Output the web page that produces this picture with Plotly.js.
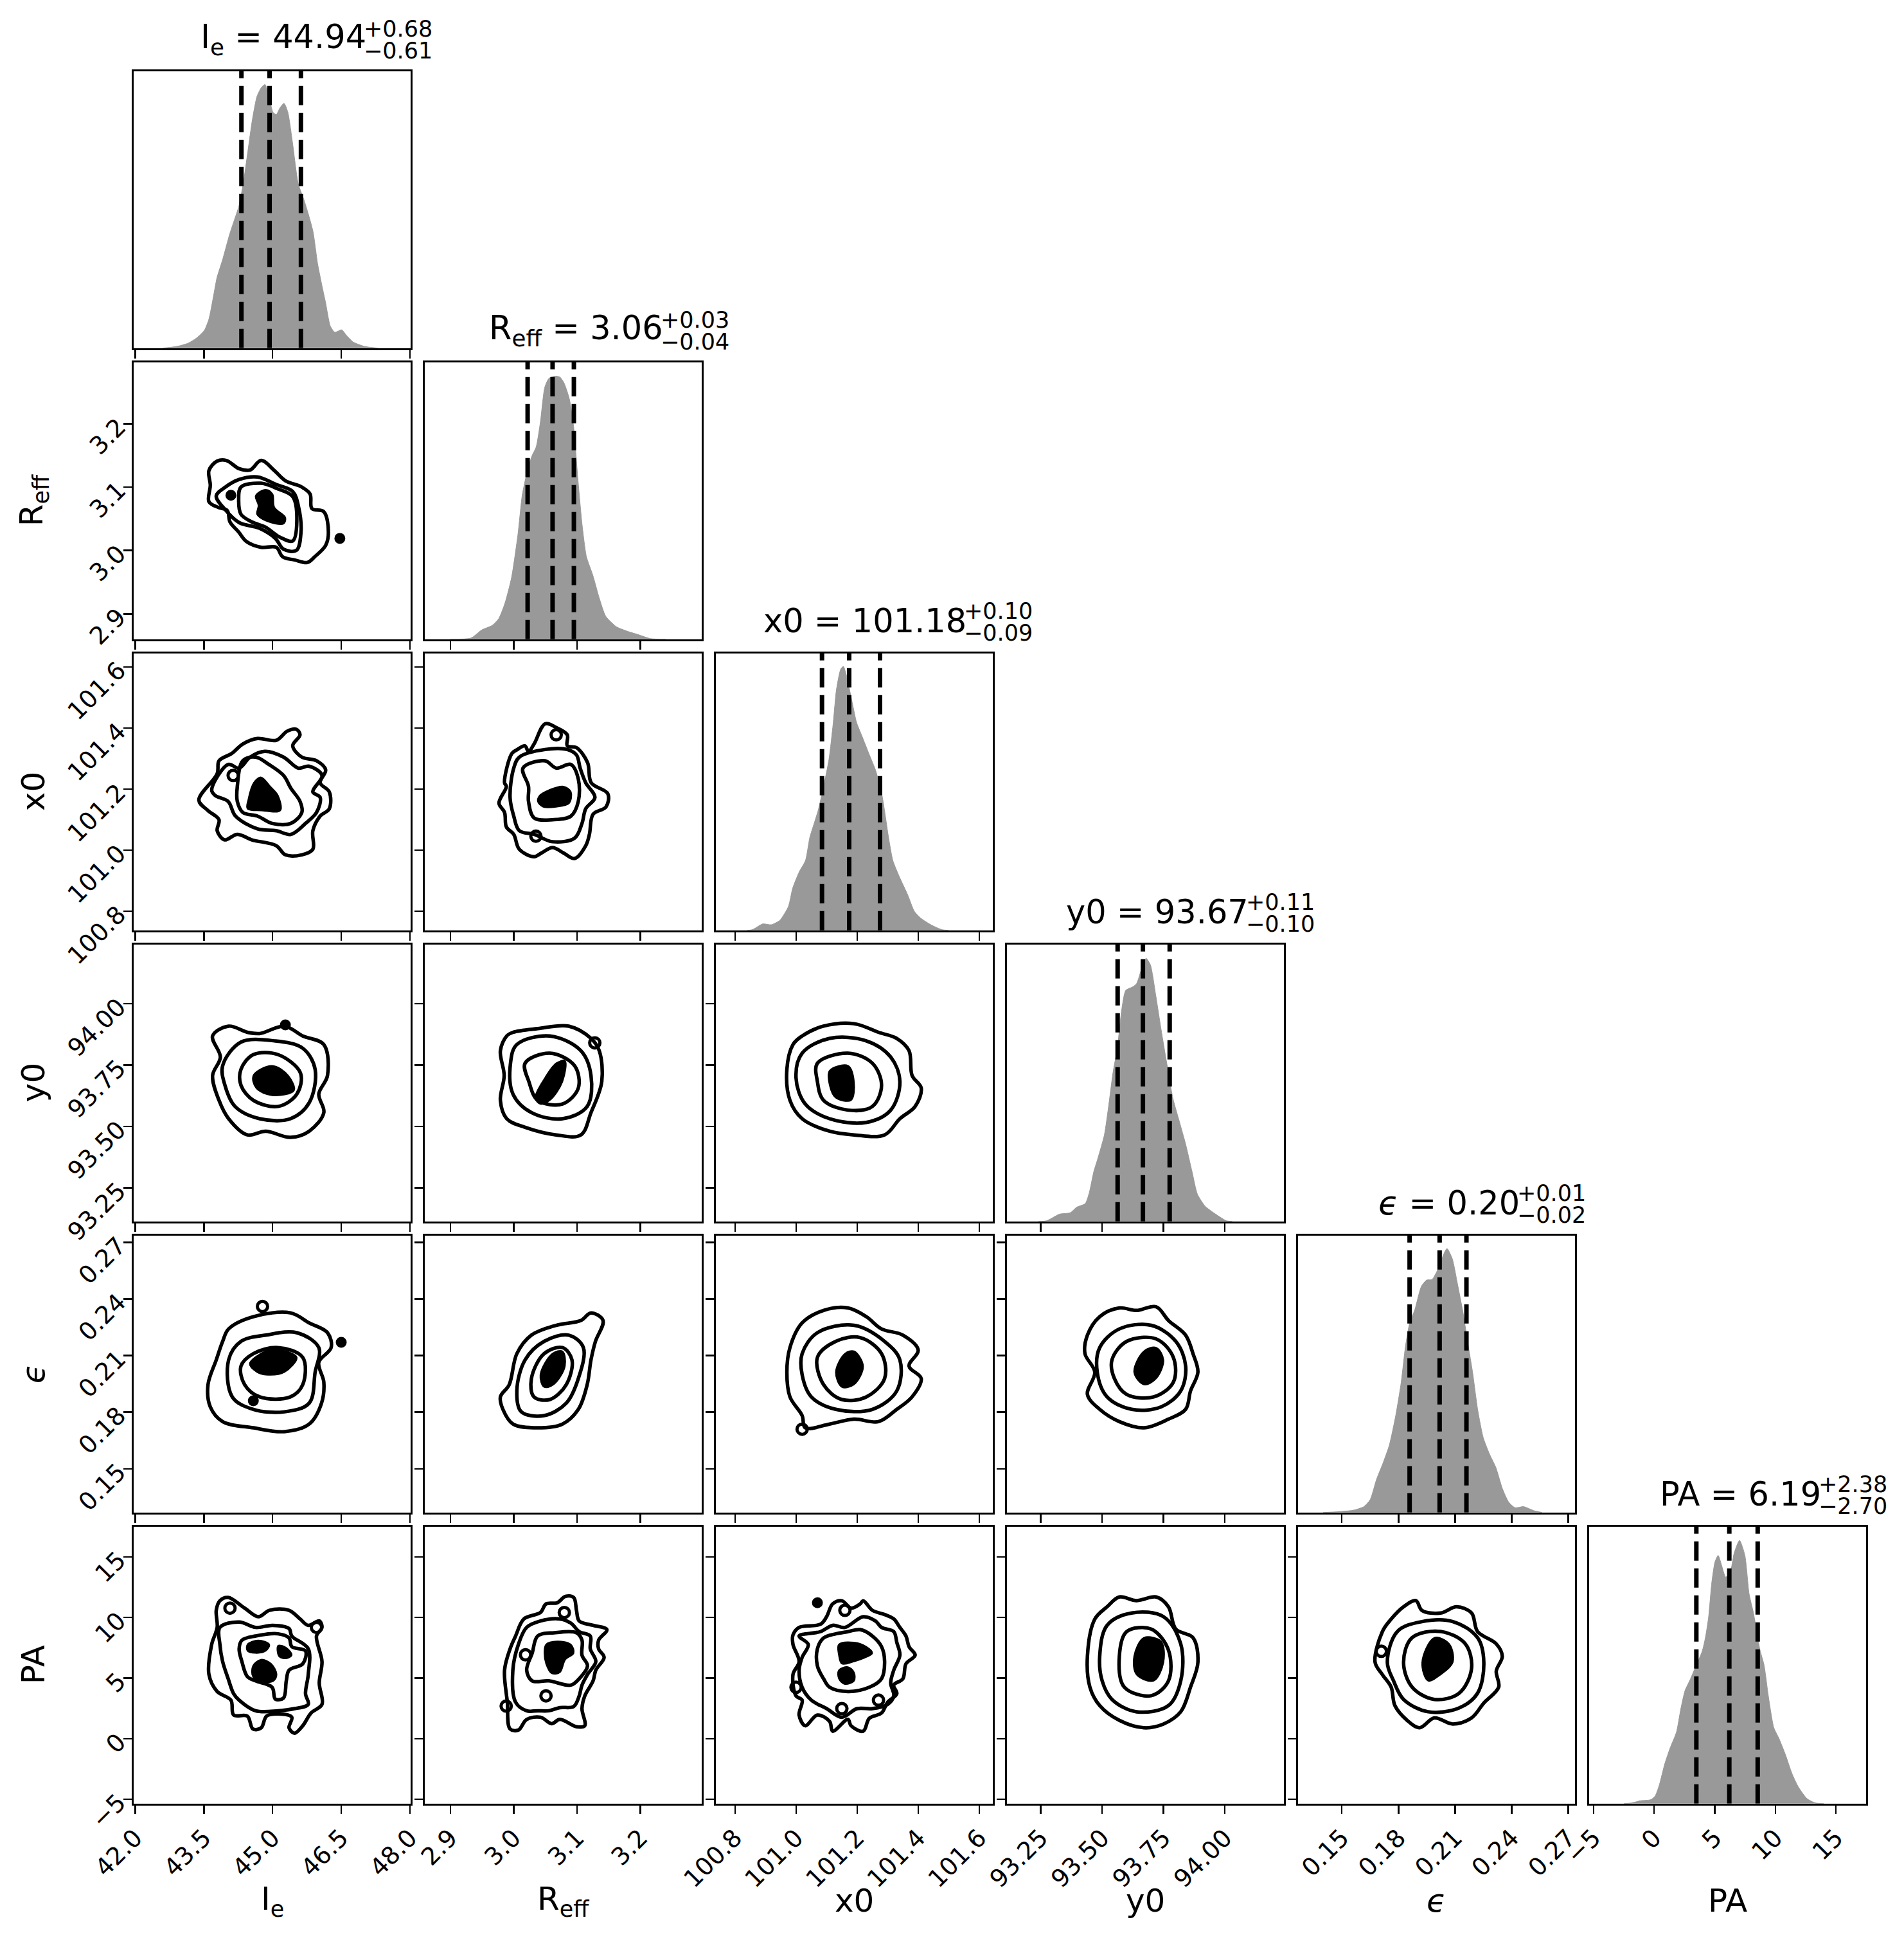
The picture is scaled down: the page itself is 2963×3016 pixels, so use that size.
<!DOCTYPE html>
<html>
<head>
<meta charset="utf-8">
<script src="https://cdn.plot.ly/plotly-3.0.1.min.js"></script>
<style>body{margin:0;background:#fff}</style>
</head>
<body>
<div id="corner" style="width:2963px;height:3016px"></div>
<script>
// parameter names, axis ranges and ticks
const names = ['I<sub>e</sub>', 'R<sub>eff</sub>', 'x0', 'y0', '<i>ϵ</i>', 'PA'];
const ranges = [[41.97, 48.02], [2.86, 3.297], [100.738, 101.645], [93.113, 94.241], [0.1269, 0.2736], [-5.35, 17.5]];
const tickVals = [[42, 43.5, 45, 46.5, 48], [2.9, 3.0, 3.1, 3.2], [100.8, 101.0, 101.2, 101.4, 101.6], [93.25, 93.5, 93.75, 94.0], [0.15, 0.18, 0.21, 0.24, 0.27], [-5, 0, 5, 10, 15]];
const tickText = [['42.0', '43.5', '45.0', '46.5', '48.0'], ['2.9', '3.0', '3.1', '3.2'], ['100.8', '101.0', '101.2', '101.4', '101.6'], ['93.25', '93.50', '93.75', '94.00'], ['0.15', '0.18', '0.21', '0.24', '0.27'], ['−5', '0', '5', '10', '15']];

// title values and 16/50/84 quantile lines
const medians = ['44.94', '3.06', '101.18', '93.67', '0.20', '6.19'];
const errPlus = ['0.68', '0.03', '0.10', '0.11', '0.01', '2.38'];
const errMinus = ['0.61', '0.04', '0.09', '0.10', '0.02', '2.70'];
const quantiles = [[44.32, 44.935, 45.62], [3.022, 3.0614, 3.095], [101.085, 101.174, 101.275], [93.563, 93.666, 93.775], [0.1859, 0.2018, 0.216], [3.48, 6.20, 8.54]];

// 1D marginal densities (relative height)
const hxIe = [42.6, 42.91, 43.16, 43.36, 43.51, 43.61, 43.71, 43.785, 43.91, 44.06, 44.16, 44.26, 44.36, 44.46, 44.56, 44.66, 44.76, 44.835, 44.91, 45.01, 45.085, 45.16, 45.25, 45.335, 45.435, 45.56, 45.685, 45.785, 45.885, 45.985, 46.085, 46.16, 46.26, 46.36, 46.51, 46.61, 46.76, 47.01, 47.3];
const hyIe = [0, 0.006, 0.018, 0.039, 0.064, 0.105, 0.188, 0.254, 0.32, 0.41, 0.46, 0.51, 0.594, 0.71, 0.826, 0.909, 0.942, 0.952, 0.917, 0.851, 0.844, 0.867, 0.884, 0.851, 0.743, 0.594, 0.536, 0.482, 0.42, 0.304, 0.221, 0.163, 0.08, 0.057, 0.066, 0.047, 0.022, 0.006, 0];
const hxReff = [2.90, 2.9326, 2.9494, 2.9663, 2.9764, 2.9865, 2.9967, 3.0068, 3.0135, 3.0220, 3.0287, 3.0355, 3.0422, 3.0490, 3.0557, 3.0642, 3.0726, 3.0793, 3.0878, 3.0945, 3.1013, 3.1080, 3.1148, 3.1249, 3.1350, 3.1452, 3.1620, 3.1789, 3.1958, 3.2160, 3.24];
const hyReff = [0, 0.004, 0.033, 0.05, 0.074, 0.132, 0.223, 0.38, 0.52, 0.612, 0.661, 0.694, 0.785, 0.909, 0.942, 0.949, 0.947, 0.926, 0.868, 0.769, 0.579, 0.413, 0.298, 0.231, 0.149, 0.083, 0.045, 0.029, 0.017, 0.002, 0];
const hxX0 = [100.84, 100.857, 100.891, 100.919, 100.947, 100.975, 100.989, 101.010, 101.031, 101.045, 101.059, 101.073, 101.090, 101.108, 101.122, 101.132, 101.146, 101.155, 101.164, 101.185, 101.198, 101.216, 101.240, 101.261, 101.282, 101.303, 101.317, 101.338, 101.366, 101.387, 101.408, 101.443, 101.478, 101.50];
const hyX0 = [0, 0.002, 0.023, 0.02, 0.036, 0.086, 0.152, 0.21, 0.252, 0.335, 0.385, 0.435, 0.518, 0.618, 0.751, 0.867, 0.942, 0.953, 0.925, 0.817, 0.751, 0.701, 0.634, 0.576, 0.485, 0.335, 0.252, 0.194, 0.127, 0.069, 0.044, 0.019, 0.002, 0];
const hxY0 = [93.24, 93.274, 93.326, 93.370, 93.396, 93.431, 93.448, 93.466, 93.483, 93.509, 93.527, 93.544, 93.562, 93.579, 93.596, 93.623, 93.640, 93.662, 93.679, 93.697, 93.718, 93.740, 93.762, 93.788, 93.814, 93.840, 93.866, 93.888, 93.919, 93.954, 94.006, 94.03];
const hyY0 = [0, 0.002, 0.026, 0.031, 0.051, 0.064, 0.105, 0.18, 0.229, 0.312, 0.421, 0.536, 0.627, 0.76, 0.834, 0.846, 0.858, 0.916, 0.95, 0.925, 0.818, 0.693, 0.577, 0.445, 0.362, 0.279, 0.18, 0.098, 0.055, 0.031, 0.002, 0];
const hxEps = [0.140, 0.1470, 0.1560, 0.1617, 0.1650, 0.1684, 0.1718, 0.1752, 0.1786, 0.1814, 0.1837, 0.1859, 0.1887, 0.1921, 0.1949, 0.1978, 0.2006, 0.2034, 0.2057, 0.2085, 0.2113, 0.2141, 0.2170, 0.2192, 0.2220, 0.2249, 0.2282, 0.2316, 0.2350, 0.2384, 0.2418, 0.2463, 0.2519, 0.256];
const hyEps = [0, 0.002, 0.008, 0.021, 0.046, 0.12, 0.178, 0.244, 0.352, 0.468, 0.6, 0.683, 0.733, 0.816, 0.839, 0.841, 0.874, 0.924, 0.953, 0.916, 0.824, 0.725, 0.6, 0.509, 0.369, 0.27, 0.211, 0.162, 0.087, 0.037, 0.017, 0.021, 0.006, 0];
const hxPA = [-2.5, -1.86, -1.156, -0.275, 0.078, 0.431, 0.872, 1.312, 1.841, 2.194, 2.547, 2.988, 3.428, 3.957, 4.222, 4.486, 4.751, 5.015, 5.280, 5.545, 5.897, 6.250, 6.602, 7.043, 7.484, 7.837, 8.189, 8.718, 9.071, 9.424, 9.864, 10.305, 10.834, 11.363, 11.892, 12.598, 13.303, 14.0];
const hyPA = [0, 0.002, 0.01, 0.014, 0.027, 0.068, 0.143, 0.2, 0.258, 0.341, 0.408, 0.449, 0.495, 0.549, 0.598, 0.672, 0.797, 0.872, 0.896, 0.863, 0.818, 0.83, 0.905, 0.95, 0.896, 0.756, 0.689, 0.557, 0.499, 0.387, 0.275, 0.234, 0.176, 0.109, 0.06, 0.018, 0.002, 0];
const histX = [hxIe, hxReff, hxX0, hxY0, hxEps, hxPA];
const histY = [hyIe, hyReff, hyX0, hyY0, hyEps, hyPA];

// 2D contours: c* = line levels, f* = filled core, i* = small islands [x, y, filled]
const cReffIe = [
  [[43.61,3.077],[43.64,3.103],[43.61,3.126],[43.79,3.141],[43.99,3.142],[44.27,3.129],[44.51,3.127],[44.75,3.142],[45.04,3.126],[45.28,3.110],[45.64,3.100],[45.82,3.089],[45.86,3.066],[46.12,3.061],[46.22,3.028],[46.16,3.008],[45.92,2.990],[45.76,2.981],[45.48,2.985],[45.22,2.990],[45.08,3.005],[44.75,3.005],[44.43,3.014],[44.26,3.029],[44.07,3.045],[44.01,3.063],[43.81,3.068]],
  [[43.77,3.086],[43.97,3.100],[44.27,3.112],[44.67,3.116],[45.08,3.104],[45.44,3.093],[45.57,3.068],[45.62,3.028],[45.52,3.000],[45.24,3.002],[45.06,3.019],[44.71,3.035],[44.27,3.044],[43.97,3.064]],
  [[44.31,3.100],[44.75,3.106],[45.12,3.097],[45.44,3.085],[45.53,3.045],[45.44,3.015],[45.16,3.021],[44.84,3.037],[44.55,3.045],[44.31,3.057],[44.26,3.080]]
];
const fReffIe = [[[44.63,3.086],[44.85,3.096],[45.00,3.089],[45.04,3.068],[45.28,3.052],[45.24,3.042],[44.85,3.047],[44.66,3.057],[44.69,3.071]]];
const iReffIe = [[44.09,3.087,1],[46.47,3.019,1]];

const cX0Ie = [
  [[43.39,101.164],[43.79,101.251],[43.83,101.293],[44.11,101.317],[44.35,101.348],[44.67,101.366],[45.08,101.360],[45.32,101.390],[45.52,101.396],[45.60,101.378],[45.44,101.342],[45.64,101.305],[45.96,101.293],[46.16,101.263],[46.04,101.221],[46.24,101.191],[46.24,101.136],[46.04,101.112],[45.88,101.064],[45.88,101.003],[45.64,100.985],[45.28,100.985],[45.08,101.015],[44.55,101.034],[44.23,101.052],[43.95,101.034],[43.79,101.064],[43.83,101.100],[43.59,101.130]],
  [[43.67,101.197],[44.03,101.281],[44.27,101.269],[44.51,101.305],[44.83,101.324],[45.24,101.305],[45.56,101.269],[45.80,101.275],[46.08,101.245],[45.88,101.191],[46.04,101.173],[45.96,101.124],[45.72,101.088],[45.40,101.052],[45.08,101.064],[44.67,101.070],[44.19,101.112],[44.03,101.160],[43.75,101.179]],
  [[44.23,101.209],[44.35,101.293],[44.63,101.305],[44.92,101.281],[45.24,101.245],[45.40,101.203],[45.60,101.160],[45.64,101.124],[45.40,101.088],[44.99,101.088],[44.67,101.112],[44.35,101.124],[44.23,101.160]]
];
const fX0Ie = [[[44.47,101.167],[44.59,101.221],[44.75,101.239],[44.95,101.209],[45.12,101.179],[45.17,101.130],[44.75,101.130],[44.45,101.136]]];
const iX0Ie = [[44.14,101.245,0]];

const cX0Reff = [
  [[3.0496,101.414],[3.0671,101.402],[3.0846,101.378],[3.0846,101.342],[3.0991,101.336],[3.1166,101.287],[3.1224,101.221],[3.1486,101.185],[3.1457,101.142],[3.1253,101.118],[3.1195,101.052],[3.1137,101.015],[3.0962,100.973],[3.0787,100.991],[3.0613,101.009],[3.0438,100.991],[3.0322,100.979],[3.0089,101.003],[3.0001,101.052],[2.9885,101.076],[2.9856,101.124],[2.9768,101.154],[2.9885,101.209],[2.9856,101.221],[2.9972,101.317],[3.0059,101.330],[3.0176,101.342],[3.0234,101.324],[3.0322,101.348]],
  [[3.0089,101.305],[3.0496,101.330],[3.0846,101.330],[3.0991,101.312],[3.1049,101.269],[3.1137,101.221],[3.1282,101.173],[3.1137,101.136],[3.1078,101.088],[3.0962,101.040],[3.0613,101.028],[3.0322,101.052],[3.0089,101.064],[3.0001,101.112],[2.9943,101.173],[3.0001,101.269]],
  [[3.0147,101.269],[3.0496,101.293],[3.0671,101.269],[3.0904,101.281],[3.1020,101.233],[3.1020,101.160],[3.0904,101.112],[3.0613,101.100],[3.0322,101.106],[3.0234,101.160],[3.0234,101.209]]
];
const fX0Reff = [[[3.0409,101.179],[3.0555,101.197],[3.0787,101.209],[3.0904,101.191],[3.0875,101.154],[3.0671,101.142],[3.0467,101.142],[3.0380,101.160]]];
const iX0Reff = [[3.0671,101.378,0],[3.0351,101.046,0]];

const cY0Ie = [
  [[43.69,93.868],[44.04,93.908],[44.45,93.883],[44.72,93.878],[45.26,93.908],[45.66,93.868],[46.12,93.833],[46.20,93.707],[46.01,93.631],[46.12,93.556],[45.80,93.480],[45.39,93.455],[44.85,93.480],[44.45,93.465],[44.04,93.531],[43.83,93.606],[43.69,93.707],[43.86,93.782]],
  [[43.91,93.747],[44.31,93.843],[45.04,93.848],[45.66,93.818],[45.93,93.732],[45.80,93.596],[45.39,93.531],[44.72,93.531],[44.18,93.581],[43.96,93.667]],
  [[44.31,93.732],[44.58,93.792],[45.12,93.792],[45.61,93.717],[45.53,93.631],[45.12,93.581],[44.58,93.606],[44.31,93.667]]
];
const fY0Ie = [[[44.58,93.707],[44.99,93.747],[45.34,93.707],[45.47,93.646],[44.99,93.626],[44.64,93.656]]];
const iY0Ie = [[45.28,93.913,1]];

const cY0Reff = [
  [[2.989,93.868],[2.999,93.883],[3.038,93.898],[3.087,93.908],[3.122,93.858],[3.135,93.808],[3.139,93.682],[3.122,93.556],[3.106,93.465],[3.067,93.465],[3.018,93.496],[2.989,93.531],[2.979,93.606],[2.985,93.707],[2.979,93.808]],
  [[3.005,93.833],[3.057,93.868],[3.106,93.808],[3.122,93.707],[3.116,93.581],[3.077,93.531],[3.028,93.556],[2.999,93.631],[2.995,93.757]],
  [[3.018,93.757],[3.057,93.798],[3.096,93.747],[3.102,93.656],[3.077,93.591],[3.038,93.606],[3.024,93.682]]
];
const fY0Reff = [[[3.034,93.616],[3.050,93.700],[3.067,93.757],[3.081,93.767],[3.077,93.682],[3.057,93.606],[3.042,93.591]]];
const iY0Reff = [[3.128,93.84,0]];

const cY0X0 = [
  [[100.99,93.833],[101.02,93.868],[101.09,93.908],[101.19,93.918],[101.27,93.883],[101.33,93.858],[101.37,93.808],[101.38,93.707],[101.41,93.656],[101.39,93.581],[101.34,93.531],[101.29,93.465],[101.19,93.465],[101.11,93.480],[101.02,93.531],[100.98,93.606],[100.97,93.732]],
  [[101.02,93.798],[101.11,93.858],[101.23,93.848],[101.31,93.782],[101.34,93.682],[101.31,93.566],[101.23,93.516],[101.11,93.531],[101.03,93.591],[101.00,93.697]],
  [[101.07,93.757],[101.17,93.798],[101.25,93.757],[101.28,93.667],[101.25,93.581],[101.17,93.566],[101.09,93.606],[101.07,93.682]]
];
const fY0X0 = [[[101.11,93.727],[101.17,93.747],[101.19,93.682],[101.18,93.606],[101.13,93.616],[101.11,93.667]]];
const iY0X0 = [];

const cEpsIe = [
  [[44.04,0.2241],[44.58,0.2306],[45.39,0.2326],[45.80,0.2273],[46.20,0.2221],[46.28,0.2142],[46.01,0.2064],[46.12,0.1959],[46.07,0.1848],[45.80,0.1737],[45.26,0.1697],[44.58,0.1717],[43.91,0.1750],[43.64,0.1828],[43.59,0.1946],[43.77,0.2077],[43.91,0.2175]],
  [[44.04,0.2077],[44.31,0.2175],[44.85,0.2208],[45.53,0.2221],[46.01,0.2142],[45.93,0.2012],[45.80,0.1848],[45.26,0.1802],[44.58,0.1815],[44.12,0.1881]],
  [[44.31,0.2044],[44.58,0.2110],[45.12,0.2142],[45.66,0.2090],[45.66,0.1946],[45.39,0.1881],[44.72,0.1881],[44.39,0.1946]]
];
const fEpsIe = [[[44.50,0.2057],[44.85,0.2123],[45.20,0.2129],[45.53,0.2090],[45.26,0.2012],[44.85,0.1998],[44.66,0.2012]]];
const iEpsIe = [[44.78,0.236,0],[46.5,0.217,1],[44.58,0.186,1]];

const cEpsReff = [
  [[2.993,0.1946],[3.005,0.2110],[3.028,0.2208],[3.067,0.2260],[3.106,0.2286],[3.122,0.2326],[3.141,0.2286],[3.129,0.2175],[3.122,0.2077],[3.116,0.1946],[3.102,0.1815],[3.077,0.1737],[3.038,0.1717],[2.999,0.1737],[2.983,0.1815],[2.979,0.1881]],
  [[3.005,0.1913],[3.018,0.2077],[3.048,0.2175],[3.087,0.2208],[3.110,0.2142],[3.102,0.1978],[3.083,0.1848],[3.048,0.1782],[3.012,0.1802]],
  [[3.028,0.1978],[3.048,0.2110],[3.077,0.2142],[3.092,0.2077],[3.083,0.1946],[3.057,0.1867],[3.032,0.1881]]
];
const fEpsReff = [[[3.042,0.1998],[3.061,0.2110],[3.077,0.2123],[3.081,0.2044],[3.063,0.1946],[3.048,0.1933]]];
const iEpsReff = [];

const cEpsX0 = [
  [[100.98,0.2142],[101.02,0.2273],[101.09,0.2339],[101.17,0.2352],[101.23,0.2306],[101.28,0.2241],[101.35,0.2208],[101.40,0.2129],[101.37,0.2044],[101.41,0.1978],[101.38,0.1881],[101.33,0.1815],[101.27,0.1750],[101.19,0.1763],[101.11,0.1737],[101.03,0.1717],[101.02,0.1782],[100.98,0.1881],[100.97,0.2012]],
  [[101.02,0.2110],[101.07,0.2221],[101.19,0.2260],[101.29,0.2175],[101.34,0.2077],[101.33,0.1913],[101.25,0.1815],[101.13,0.1815],[101.05,0.1881],[101.02,0.1998]],
  [[101.07,0.2090],[101.13,0.2175],[101.21,0.2195],[101.28,0.2110],[101.29,0.1978],[101.23,0.1881],[101.15,0.1867],[101.09,0.1946]]
];
const fEpsX0 = [[[101.13,0.2012],[101.16,0.2110],[101.19,0.2123],[101.22,0.2044],[101.19,0.1946],[101.15,0.1933]]];
const iEpsX0 = [[101.02,0.171,0]];

const cEpsY0 = [
  [[93.44,0.2208],[93.49,0.2306],[93.57,0.2352],[93.64,0.2339],[93.72,0.2358],[93.77,0.2286],[93.84,0.2208],[93.87,0.2110],[93.89,0.2012],[93.86,0.1913],[93.84,0.1815],[93.77,0.1763],[93.67,0.1717],[93.57,0.1750],[93.49,0.1815],[93.44,0.1894],[93.47,0.2012],[93.43,0.2110]],
  [[93.49,0.2142],[93.57,0.2241],[93.70,0.2260],[93.80,0.2175],[93.84,0.2044],[93.82,0.1913],[93.74,0.1828],[93.62,0.1815],[93.52,0.1881],[93.48,0.2012]],
  [[93.54,0.2077],[93.60,0.2175],[93.72,0.2188],[93.79,0.2090],[93.79,0.1959],[93.71,0.1881],[93.60,0.1894],[93.55,0.1978]]
];
const fEpsY0 = [[[93.63,0.2012],[93.67,0.2123],[93.72,0.2142],[93.75,0.2077],[93.72,0.1978],[93.67,0.1946]]];
const iEpsY0 = [];

const cPAIe = [
  [[43.85,11.38],[44.03,11.65],[44.39,10.77],[44.69,10.06],[44.93,10.59],[45.36,10.59],[45.60,9.88],[45.78,9.35],[46.02,9.71],[46.08,9.18],[45.96,8.47],[46.08,6.36],[46.02,4.59],[46.08,2.83],[45.84,2.12],[45.66,1.07],[45.48,0.45],[45.36,0.89],[45.42,1.77],[45.12,2.04],[44.87,1.86],[44.75,0.89],[44.57,0.80],[44.45,1.86],[44.15,1.95],[44.09,3.18],[43.79,3.89],[43.61,5.30],[43.67,7.77],[43.79,9.18],[43.77,10.59]],
  [[43.85,9.18],[44.27,9.62],[44.63,9.18],[45.00,9.35],[45.36,9.09],[45.42,8.47],[45.78,7.41],[45.78,5.30],[45.72,3.71],[45.78,2.83],[45.48,2.48],[45.12,2.30],[44.63,2.30],[44.27,3.18],[44.15,3.71],[44.03,4.95],[43.91,6.36],[43.85,7.77]],
  [[44.33,8.12],[44.63,8.47],[45.12,8.65],[45.36,8.30],[45.42,7.59],[45.72,7.24],[45.66,6.18],[45.36,5.65],[45.30,4.77],[45.24,3.36],[45.06,3.27],[44.99,4.24],[44.63,4.77],[44.45,5.12],[44.33,6.36],[44.27,7.41]]
];
const fPAIe = [
  [[44.45,7.77],[44.69,8.12],[44.93,7.77],[44.85,7.24],[44.63,7.06],[44.45,7.24]],
  [[45.12,7.68],[45.30,7.50],[45.42,6.89],[45.30,6.62],[45.14,6.80]],
  [[44.57,6.00],[44.75,6.53],[44.97,6.18],[45.09,5.30],[45.02,4.77],[44.75,4.68],[44.57,5.12]]
];
const iPAIe = [[44.07,10.77,0],[45.96,9.18,0]];

const cPAReff = [
  [[2.9943,0.80],[2.9900,3.01],[2.9856,5.65],[2.9943,7.41],[3.0030,8.47],[3.0161,9.88],[3.0423,10.41],[3.0510,11.12],[3.0685,11.21],[3.0816,11.74],[3.0947,11.65],[3.0991,10.59],[3.1034,9.71],[3.1253,9.35],[3.1471,9.00],[3.1340,8.12],[3.1340,7.41],[3.1427,6.71],[3.1296,5.65],[3.1253,4.77],[3.1122,3.53],[3.1078,2.48],[3.1122,1.07],[3.0991,0.98],[3.0729,1.59],[3.0598,1.24],[3.0423,1.77],[3.0205,1.59],[3.0074,0.71]],
  [[3.0030,3.01],[2.9987,5.65],[3.0074,7.77],[3.0205,9.18],[3.0423,9.71],[3.0729,9.88],[3.0903,9.53],[3.1034,8.83],[3.1209,8.47],[3.1209,7.41],[3.1296,6.36],[3.1165,5.30],[3.1078,4.42],[3.1034,3.53],[3.0947,2.65],[3.0729,2.56],[3.0554,2.30],[3.0379,2.30],[3.0205,2.30]],
  [[3.0379,8.47],[3.0641,8.74],[3.0991,8.74],[3.1078,8.12],[3.1078,6.89],[3.1165,6.00],[3.1034,4.95],[3.0903,4.42],[3.0554,4.77],[3.0292,4.77],[3.0205,5.65],[3.0292,7.06]]
];
const fPAReff = [[[3.0510,7.77],[3.0685,8.03],[3.0903,7.77],[3.0947,7.06],[3.0816,6.53],[3.0729,5.47],[3.0598,5.39],[3.0510,6.18],[3.0484,7.06]]];
const iPAReff = [[3.0799,10.41,0],[3.0187,6.92,0],[3.0510,3.53,0],[2.9882,2.69,0]];

const cPAX0 = [
  [[100.99,8.56],[101.01,9.18],[101.08,9.44],[101.10,10.06],[101.12,11.12],[101.15,11.38],[101.18,10.77],[101.21,11.12],[101.22,11.38],[101.25,10.59],[101.29,10.24],[101.32,9.88],[101.34,9.18],[101.36,8.47],[101.37,7.59],[101.39,6.89],[101.36,6.18],[101.35,4.95],[101.32,4.42],[101.33,3.71],[101.30,3.01],[101.28,2.12],[101.24,1.68],[101.22,0.62],[101.18,1.07],[101.17,1.59],[101.12,0.62],[101.11,1.42],[101.07,1.95],[101.03,1.07],[101.01,1.95],[101.02,3.18],[101.00,3.53],[100.99,5.30],[101.01,6.36],[100.99,7.77]],
  [[101.01,8.47],[101.08,8.83],[101.12,9.35],[101.16,9.18],[101.22,10.06],[101.26,9.71],[101.28,9.18],[101.32,8.83],[101.33,7.94],[101.34,6.89],[101.32,5.65],[101.31,4.59],[101.32,3.53],[101.30,2.83],[101.25,2.48],[101.20,2.48],[101.15,1.77],[101.10,2.48],[101.05,3.18],[101.02,4.24],[101.01,5.65],[101.02,6.71],[101.04,7.77]],
  [[101.09,8.30],[101.13,8.65],[101.17,8.83],[101.21,9.00],[101.25,8.47],[101.28,7.59],[101.29,6.36],[101.28,4.95],[101.24,4.24],[101.17,3.89],[101.11,4.24],[101.09,4.95],[101.07,6.00],[101.07,7.41]]
];
const fPAX0 = [
  [[101.14,7.77],[101.19,7.94],[101.23,7.59],[101.25,7.06],[101.22,6.62],[101.19,6.36],[101.15,6.18],[101.14,6.89]],
  [[101.14,5.65],[101.17,5.92],[101.19,5.47],[101.19,4.77],[101.16,4.50],[101.14,4.95]]
];
const iPAX0 = [[101.07,11.21,1],[101.16,10.59,0],[101.00,4.24,0],[101.27,3.18,0],[101.15,2.48,0]];

const cPAY0 = [
  [[93.44,6.80],[93.47,9.86],[93.52,10.88],[93.57,11.69],[93.64,11.39],[93.72,11.69],[93.77,10.88],[93.80,9.04],[93.87,8.33],[93.89,6.30],[93.86,4.26],[93.82,2.22],[93.75,1.21],[93.67,0.90],[93.57,1.51],[93.49,2.73],[93.45,4.26]],
  [[93.49,6.80],[93.52,9.35],[93.62,10.37],[93.75,10.06],[93.82,7.82],[93.82,4.77],[93.77,2.73],[93.64,2.22],[93.54,3.24],[93.50,4.77]],
  [[93.57,6.80],[93.60,8.84],[93.70,9.04],[93.77,7.31],[93.77,4.77],[93.70,3.55],[93.59,4.26]]
];
const fPAY0 = [[[93.63,6.80],[93.67,8.33],[93.74,8.03],[93.75,6.30],[93.71,4.77],[93.64,5.28]]];
const iPAY0 = [];

const cPAEps = [
  [[0.1676,6.30],[0.1715,8.84],[0.1761,9.86],[0.1827,10.88],[0.1892,11.39],[0.1925,10.57],[0.2023,10.37],[0.2108,10.88],[0.2187,10.37],[0.2219,8.84],[0.2318,7.82],[0.2350,6.80],[0.2318,5.58],[0.2331,4.26],[0.2252,2.94],[0.2187,1.71],[0.2088,1.21],[0.1990,1.71],[0.1912,0.90],[0.1846,1.51],[0.1781,2.73],[0.1761,4.26],[0.1715,5.28]],
  [[0.1741,6.30],[0.1794,8.84],[0.1925,9.66],[0.2088,9.66],[0.2219,8.33],[0.2252,6.30],[0.2219,3.75],[0.2121,2.53],[0.1957,2.22],[0.1827,3.24],[0.1774,4.77]],
  [[0.1827,6.30],[0.1872,8.33],[0.2023,8.84],[0.2154,7.82],[0.2187,5.79],[0.2121,3.75],[0.1990,3.24],[0.1872,4.26]]
];
const fPAEps = [[[0.1925,6.30],[0.1990,8.33],[0.2069,7.82],[0.2088,6.30],[0.2023,5.28],[0.1957,4.77]]];
const iPAEps = [[0.1709,7.21,0]];

const panels2d = {
  '1,0': [cReffIe, fReffIe, iReffIe],
  '2,0': [cX0Ie, fX0Ie, iX0Ie], '2,1': [cX0Reff, fX0Reff, iX0Reff],
  '3,0': [cY0Ie, fY0Ie, iY0Ie], '3,1': [cY0Reff, fY0Reff, iY0Reff], '3,2': [cY0X0, fY0X0, iY0X0],
  '4,0': [cEpsIe, fEpsIe, iEpsIe], '4,1': [cEpsReff, fEpsReff, iEpsReff], '4,2': [cEpsX0, fEpsX0, iEpsX0], '4,3': [cEpsY0, fEpsY0, iEpsY0],
  '5,0': [cPAIe, fPAIe, iPAIe], '5,1': [cPAReff, fPAReff, iPAReff], '5,2': [cPAX0, fPAX0, iPAX0], '5,3': [cPAY0, fPAY0, iPAY0], '5,4': [cPAEps, fPAEps, iPAEps]
};

// page geometry (px)
const W = 2963, H = 3016;
const LEFT = 208.3, TOP = 110.7, STEP = 453, SIZE = 431;
const titleOff = [356, 365, 384, 370, 339, 355];
const FONT = 'DejaVu Sans';

const traces = [];
const layout = {
  width: W, height: H,
  margin: {l: 0, r: 0, t: 0, b: 0},
  showlegend: false,
  paper_bgcolor: 'white', plot_bgcolor: 'white',
  font: {family: FONT, size: 38, color: 'black'},
  annotations: []
};

function closed(pts) {
  return {x: pts.map(p => p[0]).concat([pts[0][0]]), y: pts.map(p => p[1]).concat([pts[0][1]])};
}

let k = 0;
for (let r = 0; r < 6; r++) {
  for (let c = 0; c <= r; c++) {
    k++;
    const sfx = k === 1 ? '' : String(k);
    const px = LEFT + STEP * c, py = TOP + STEP * r;
    const base = {
      showline: true, mirror: true, linecolor: 'black', linewidth: 3,
      showgrid: false, zeroline: false,
      ticks: 'outside', ticklen: 13, tickwidth: 2.5, tickcolor: 'black',
      tickfont: {family: FONT, size: 38, color: 'black'}, tickangle: -45
    };
    layout['xaxis' + sfx] = Object.assign({}, base, {
      domain: [px / W, (px + SIZE) / W], range: ranges[c], anchor: 'y' + sfx,
      tickvals: tickVals[c], ticktext: tickText[c], showticklabels: r === 5
    });
    const ydom = [1 - (py + SIZE) / H, 1 - py / H];
    if (r === c) {
      layout['yaxis' + sfx] = Object.assign({}, base, {domain: ydom, range: [0, 1], anchor: 'x' + sfx, ticks: '', showticklabels: false});
      traces.push({
        x: histX[c], y: histY[c], xaxis: 'x' + sfx, yaxis: 'y' + sfx,
        type: 'scatter', mode: 'lines', fill: 'tozeroy', fillcolor: '#999999',
        line: {color: '#999999', width: 1, shape: 'spline', smoothing: 0.6}, hoverinfo: 'skip'
      });
      quantiles[c].forEach(q => traces.push({
        x: [q, q], y: [0, 1], xaxis: 'x' + sfx, yaxis: 'y' + sfx,
        type: 'scatter', mode: 'lines', line: {color: 'black', width: 7, dash: '30px,12px'}, hoverinfo: 'skip'
      }));
    } else {
      layout['yaxis' + sfx] = Object.assign({}, base, {
        domain: ydom, range: ranges[r], anchor: 'x' + sfx,
        tickvals: tickVals[r], ticktext: tickText[r], showticklabels: c === 0
      });
      const [lines, fills, islands] = panels2d[r + ',' + c];
      fills.forEach(f => {
        const p = closed(f);
        traces.push({x: p.x, y: p.y, xaxis: 'x' + sfx, yaxis: 'y' + sfx, type: 'scatter', mode: 'lines',
          fill: 'toself', fillcolor: 'black', line: {color: 'black', width: 2, shape: 'spline'}, hoverinfo: 'skip'});
      });
      lines.forEach(l => {
        const p = closed(l);
        traces.push({x: p.x, y: p.y, xaxis: 'x' + sfx, yaxis: 'y' + sfx, type: 'scatter', mode: 'lines',
          line: {color: 'black', width: 5.5, shape: 'spline', smoothing: 1}, hoverinfo: 'skip'});
      });
      if (islands.length) {
        traces.push({
          x: islands.map(d => d[0]), y: islands.map(d => d[1]), xaxis: 'x' + sfx, yaxis: 'y' + sfx,
          type: 'scatter', mode: 'markers', hoverinfo: 'skip',
          marker: {
            symbol: islands.map(d => d[2] ? 'circle' : 'circle-open'),
            size: islands.map(d => d[2] ? 12 : 16), color: 'black', opacity: 1, line: {color: 'black', width: 5}
          }
        });
      }
    }
  }
}

// titles above the diagonal panels
for (let i = 0; i < 6; i++) {
  const sx = LEFT + STEP * i + titleOff[i];
  const baseY = TOP + STEP * i - 34;
  layout.annotations.push({
    xref: 'paper', yref: 'paper', x: (sx + 8) / W, y: 1 - (baseY - 16) / H,
    xanchor: 'right', yanchor: 'middle', showarrow: false,
    text: names[i] + ' = ' + medians[i], font: {family: FONT, size: 51, color: 'black'}
  });
  layout.annotations.push({
    xref: 'paper', yref: 'paper', x: sx / W, y: 1 - (baseY - 32) / H,
    xanchor: 'left', yanchor: 'middle', showarrow: false,
    text: '+' + errPlus[i], font: {family: FONT, size: 35, color: 'black'}
  });
  layout.annotations.push({
    xref: 'paper', yref: 'paper', x: sx / W, y: 1 - (baseY + 2) / H,
    xanchor: 'left', yanchor: 'middle', showarrow: false,
    text: '−' + errMinus[i], font: {family: FONT, size: 35, color: 'black'}
  });
}

// axis labels
for (let c = 0; c < 6; c++) {
  layout.annotations.push({
    xref: 'paper', yref: 'paper', x: (LEFT + STEP * c + SIZE / 2) / W, y: 1 - 2958 / H,
    xanchor: 'center', yanchor: 'middle', showarrow: false,
    text: names[c], font: {family: FONT, size: 50, color: 'black'}
  });
}
for (let r = 1; r < 6; r++) {
  layout.annotations.push({
    xref: 'paper', yref: 'paper', x: 52 / W, y: 1 - (TOP + STEP * r + SIZE / 2) / H,
    xanchor: 'center', yanchor: 'middle', showarrow: false, textangle: -90,
    text: names[r], font: {family: FONT, size: 50, color: 'black'}
  });
}

Plotly.newPlot('corner', traces, layout, {displayModeBar: false, staticPlot: true});
</script>
</body>
</html>
